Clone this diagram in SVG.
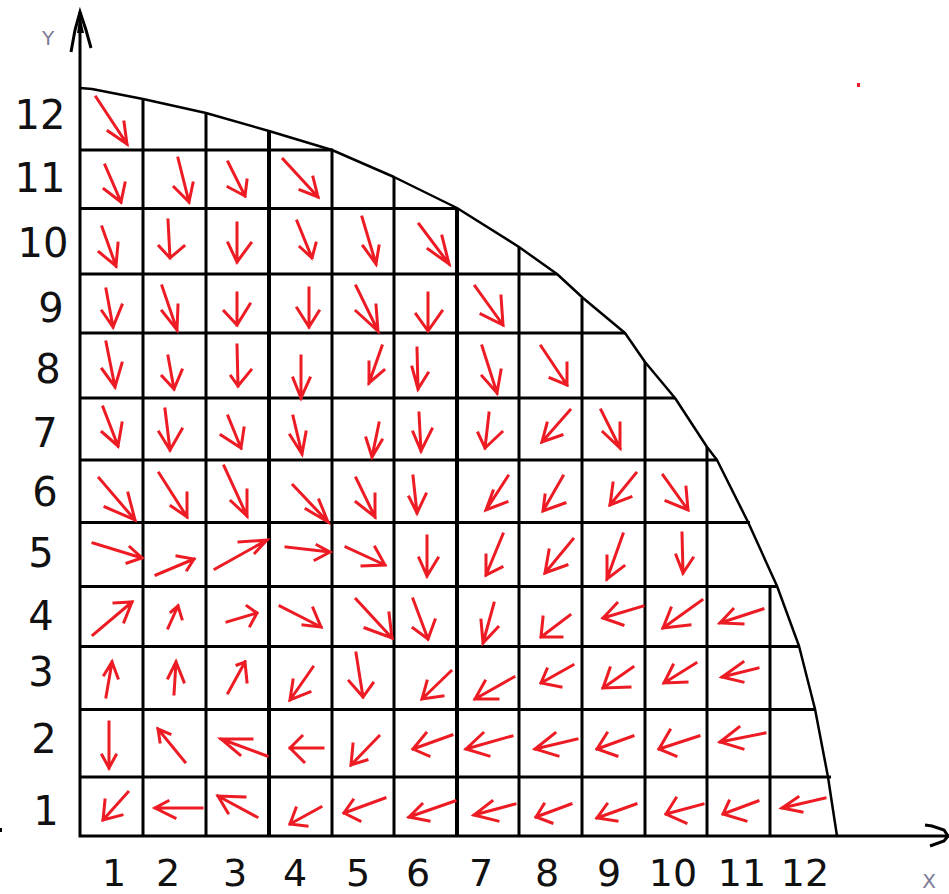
<svg xmlns="http://www.w3.org/2000/svg" width="949" height="894" viewBox="0 0 949 894">
<style>
.bg{fill:#fff}
.grid{stroke:#000;stroke-width:3;fill:none}
.thick{stroke:#000;stroke-width:4;fill:none}
.curve{stroke:#000;stroke-width:2.5;fill:none;stroke-linejoin:round}
.ax{stroke:#000;stroke-width:3;fill:none}
.ar{stroke:#ed1c24;stroke-width:3;fill:none;stroke-linecap:square;stroke-linejoin:miter}
.num{font-family:"DejaVu Sans","Liberation Sans",sans-serif;font-size:40px;fill:#111;text-anchor:middle}
.xnum{font-family:"DejaVu Sans","Liberation Sans",sans-serif;font-size:38px;fill:#111;text-anchor:middle}
.lab{font-family:"DejaVu Sans","Liberation Sans",sans-serif;font-size:20px;fill:#7a7a95;text-anchor:middle}
</style>
<rect class="bg" x="0" y="0" width="949" height="894"/>
<g id="grid">
<path class="grid" d="M143,99V836M206,113V836M332,150V836M394,177V836M519,247V836M582,298V836M645,362V836M707,447V836M770,586V836"/>
<path class="thick" d="M269,131V836M457,208V836"/>
<path class="grid" d="M80,150H333M80,208.5H458M80,274H557M80,333H625M80,398H675M80,460H717M80,522.5H750M80,586.5H777M80,646.5H799M80,709.5H815M80,777H831"/>
</g>
<g id="curve">
<path class="curve" d="M80,88 L92,89 L143,99 L206,113 L269,131 L332,150 L394,177 L457,208 L519,247 L557,274 L583,298 L625,333 L645,362 L675,398 L707,447 L717,460 L748,522 L772,575 L777,586 L799,646 L815,709 L828,777 L833,810 L837,836"/>
</g>
<g id="axes">
<path class="ax" d="M80,12V836H948"/>
<path class="ax" d="M71,52 L75,30 L80,12 L86,30 L91,48"/>
<polygon points="77,33 80,15 84,33" fill="#000"/>
<path class="ax" d="M925,825 L932,826 L944,830 L948,836 L944,841 L930,846"/>
<text class="lab" x="48" y="45">Y</text>
<text class="lab" x="929" y="888">X</text>
</g>
<g id="ylabels">
<text class="num" x="40" y="129">12</text>
<text class="num" x="40" y="192">11</text>
<text class="num" x="43" y="257">10</text>
<text class="num" x="51" y="322">9</text>
<text class="num" x="48" y="383">8</text>
<text class="num" x="45" y="447">7</text>
<text class="num" x="45" y="506">6</text>
<text class="num" x="41" y="567">5</text>
<text class="num" x="41" y="630">4</text>
<text class="num" x="41" y="686">3</text>
<text class="num" x="44" y="753">2</text>
<text class="num" x="46" y="825">1</text>
</g>
<g id="xlabels">
<text class="xnum" x="114" y="886">1</text>
<text class="xnum" x="168" y="886">2</text>
<text class="xnum" x="235" y="886">3</text>
<text class="xnum" x="295" y="886">4</text>
<text class="xnum" x="358" y="886">5</text>
<text class="xnum" x="418" y="886">6</text>
<text class="xnum" x="481" y="886">7</text>
<text class="xnum" x="547" y="886">8</text>
<text class="xnum" x="609" y="886">9</text>
<text class="xnum" x="673" y="886">10</text>
<text class="xnum" x="742" y="886">11</text>
<text class="xnum" x="805" y="886">12</text>
</g>
<g id="arrows" class="ar">
<path id="r12c1" d="M96,97L127,144M108,131L127,144L124,122"/>
<path id="r11c1" d="M105,165L121,202M104,189L121,202L125,183"/>
<path id="r11c2" d="M178,158L189,202M174,187L189,202L193,183"/>
<path id="r11c3" d="M228,162L245,196M228,187L245,196L247,180"/>
<path id="r11c4" d="M283,159L318,197M300,190L318,197L313,177"/>
<path id="r10c1" d="M102,227L116,266M99,252L116,266L118,243"/>
<path id="r10c2" d="M168,220L170,258M159,246L170,258L184,246"/>
<path id="r10c3" d="M237,223L237,262M228,243L237,262L251,243"/>
<path id="r10c4" d="M297,221L312,258M300,247L312,258L316,243"/>
<path id="r10c5" d="M362,217L376,264M363,246L376,264L379,246"/>
<path id="r10c6" d="M419,224L449,264M428,249L449,264L442,236"/>
<path id="r9c1" d="M106,289L113,327M102,311L113,327L122,305"/>
<path id="r9c2" d="M162,286L177,330M162,311L177,330L178,305"/>
<path id="r9c3" d="M237,293L237,325M224,311L237,325L250,304"/>
<path id="r9c4" d="M309,288L309,327M297,308L309,327L319,311"/>
<path id="r9c5" d="M356,286L378,331M356,311L378,331L376,305"/>
<path id="r9c6" d="M428,293L428,331M416,314L428,331L442,311"/>
<path id="r9c7" d="M475,286L503,325M481,314L503,325L501,296"/>
<path id="r8c1" d="M106,342L115,387M102,369L115,387L122,363"/>
<path id="r8c2" d="M168,356L174,389M162,376L174,389L182,370"/>
<path id="r8c3" d="M237,345L238,386M231,376L238,386L251,370"/>
<path id="r8c4" d="M301,356L301,398M293,378L301,398L310,378"/>
<path id="r8c5" d="M382,346L369,383M369,362L369,383L384,370"/>
<path id="r8c6" d="M417,348L418,389M412,367L418,389L428,373"/>
<path id="r8c7" d="M482,346L497,393M482,376L497,393L501,370"/>
<path id="r8c8" d="M541,346L567,385M550,378L567,385L567,363"/>
<path id="r7c1" d="M103,407L118,446M102,432L118,446L122,423"/>
<path id="r7c2" d="M165,409L170,450M159,432L170,450L182,429"/>
<path id="r7c3" d="M228,416L241,448M221,435L241,448L244,428"/>
<path id="r7c4" d="M293,416L302,454M290,435L302,454L306,432"/>
<path id="r7c5" d="M379,423L372,457M366,438L372,457L382,440"/>
<path id="r7c6" d="M419,413L421,451M413,432L421,451L432,429"/>
<path id="r7c7" d="M489,413L485,448M478,433L485,448L502,432"/>
<path id="r7c8" d="M570,410L542,442M547,423L542,442L562,435"/>
<path id="r7c9" d="M601,410L620,448M603,432L620,448L620,423"/>
<path id="r6c1" d="M99,478L135,520M105,507L135,520L128,493"/>
<path id="r6c2" d="M159,473L187,517M171,506L187,517L187,493"/>
<path id="r6c3" d="M224,466L247,516M231,501L247,516L247,490"/>
<path id="r6c4" d="M293,485L328,522M306,509L328,522L319,500"/>
<path id="r6c5" d="M356,478L375,517M356,502L375,517L375,494"/>
<path id="r6c6" d="M413,476L417,513M409,497L417,513L426,494"/>
<path id="r6c7" d="M508,476L486,510M493,491L486,510L507,502"/>
<path id="r6c8" d="M563,476L543,511M545,495L543,511L565,503"/>
<path id="r6c9" d="M636,473L610,505M613,483L610,505L631,497"/>
<path id="r6c10" d="M663,475L688,510M666,501L688,510L686,487"/>
<path id="r5c1" d="M93,543L142,558M130,547L142,558L127,563"/>
<path id="r5c2" d="M156,575L194,559M177,556L194,559L187,570"/>
<path id="r5c3" d="M215,569L267,540M239,542L267,540L255,553"/>
<path id="r5c4" d="M286,547L330,552M317,545L330,552L315,560"/>
<path id="r5c5" d="M346,547L385,565M375,547L385,565L362,566"/>
<path id="r5c6" d="M427,536L427,576M419,558L427,576L438,558"/>
<path id="r5c7" d="M503,534L486,575M486,555L486,575L502,567"/>
<path id="r5c8" d="M573,539L545,573M549,550L545,573L567,565"/>
<path id="r5c9" d="M623,534L607,579M607,556L607,579L624,566"/>
<path id="r5c10" d="M682,533L683,573M676,555L683,573L693,558"/>
<path id="r4c1" d="M93,635L132,602M114,603L132,602L124,622"/>
<path id="r4c2" d="M168,628L178,606M171,612L178,606L182,619"/>
<path id="r4c3" d="M227,622L257,613M247,606L257,613L250,626"/>
<path id="r4c4" d="M280,606L321,627M303,625L321,627L313,608"/>
<path id="r4c5" d="M356,599L392,638M365,628L392,638L389,613"/>
<path id="r4c6" d="M413,599L428,639M413,628L428,639L435,620"/>
<path id="r4c7" d="M494,603L483,643M481,620L483,643L498,627"/>
<path id="r4c8" d="M570,615L541,637M543,617L541,637L562,637"/>
<path id="r4c9" d="M643,606L603,618M617,603L603,618L623,625"/>
<path id="r4c10" d="M702,600L663,628M671,608L663,628L690,625"/>
<path id="r4c11" d="M763,609L720,623M733,609L720,623L743,624"/>
<path id="r3c1" d="M106,697L112,662M104,675L112,662L118,678"/>
<path id="r3c2" d="M174,694L176,662M168,678L176,662L184,682"/>
<path id="r3c3" d="M228,693L245,662M237,665L245,662L247,682"/>
<path id="r3c4" d="M313,667L290,700M293,680L290,700L310,692"/>
<path id="r3c5" d="M356,653L363,697M349,681L363,697L373,683"/>
<path id="r3c6" d="M451,671L422,699M427,681L422,699L443,696"/>
<path id="r3c7" d="M514,677L475,699M485,681L475,699L498,699"/>
<path id="r3c8" d="M573,665L541,683M547,669L541,683L561,687"/>
<path id="r3c9" d="M633,667L603,688M610,668L603,688L630,687"/>
<path id="r3c10" d="M696,663L664,683M673,665L664,683L687,682"/>
<path id="r3c11" d="M758,668L722,677M743,662L722,677L743,682"/>
<path id="r2c1" d="M109,722L109,768M102,755L109,768L116,755"/>
<path id="r2c2" d="M185,762L158,729M160,742L158,729L170,734"/>
<path id="r2c3" d="M267,756L221,739M252,739L221,739L240,755"/>
<path id="r2c4" d="M323,748L290,748M302,736L290,748L304,762"/>
<path id="r2c5" d="M379,736L351,765M353,744L351,765L367,760"/>
<path id="r2c6" d="M452,735L413,749M426,733L413,749L429,756"/>
<path id="r2c7" d="M512,736L466,749M483,733L466,749L489,756"/>
<path id="r2c8" d="M577,739L535,749M555,733L535,749L558,756"/>
<path id="r2c9" d="M633,736L597,749M607,733L597,749L617,756"/>
<path id="r2c10" d="M699,736L659,749M670,730L659,749L676,756"/>
<path id="r2c11" d="M765,733L720,742M739,727L720,742L743,749"/>
<path id="r1c1" d="M128,792L103,820M105,800L103,820L122,815"/>
<path id="r1c2" d="M202,808L155,808M168,801L155,808L175,818"/>
<path id="r1c3" d="M257,817L218,796M245,797L218,796L228,813"/>
<path id="r1c4" d="M321,807L290,824M296,808L290,824L307,826"/>
<path id="r1c5" d="M385,798L344,813M353,800L344,813L360,821"/>
<path id="r1c6" d="M455,801L409,817M422,804L409,817L429,821"/>
<path id="r1c7" d="M515,804L474,815M492,801L474,815L498,821"/>
<path id="r1c8" d="M571,804L536,817M544,804L536,817L552,823"/>
<path id="r1c9" d="M636,804L597,818M607,804L597,818L617,821"/>
<path id="r1c10" d="M703,804L666,814M676,798L666,814L686,823"/>
<path id="r1c11" d="M758,801L723,814M729,801L723,814L746,821"/>
<path id="r1c12" d="M825,798L782,808M798,797L782,808L802,812"/>
</g>
<rect x="857" y="83" width="3" height="4" fill="#ed1c24"/>
<rect x="0" y="828" width="2" height="4" fill="#000"/>
</svg>
